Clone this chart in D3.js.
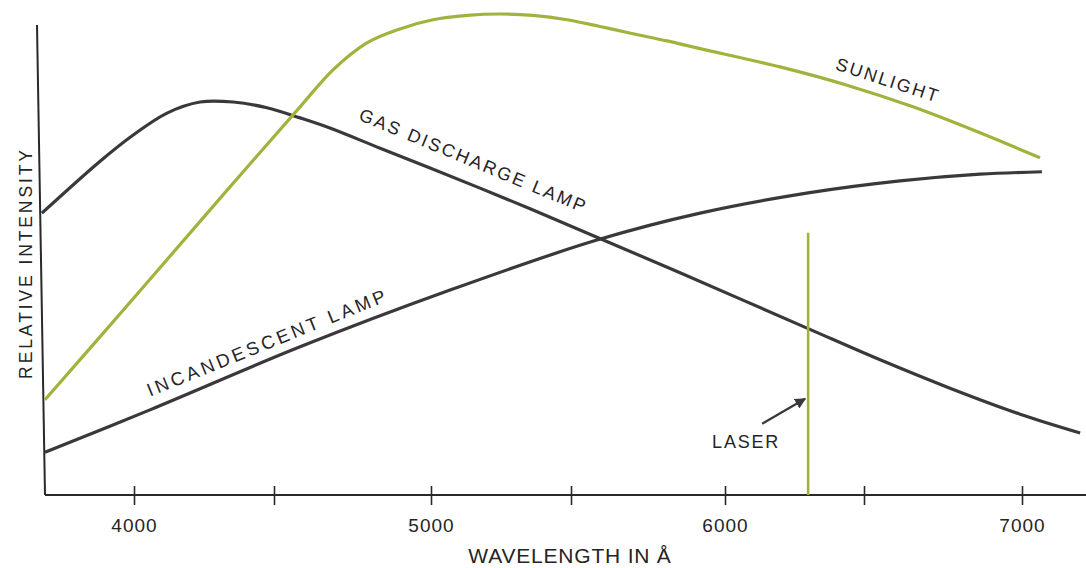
<!DOCTYPE html>
<html>
<head>
<meta charset="utf-8">
<script src="https://cdn.jsdelivr.net/npm/d3@7"></script>
<style>
  html, body { margin: 0; padding: 0; background: #fff; }
  svg { display: block; }
  text { font-family: "Liberation Sans", Arial, Helvetica, sans-serif; fill: #262426; }
</style>
</head>
<body>
<svg id="chart" width="1086" height="568"></svg>
<script>
// ---- data (wavelength in Å, relative intensity 0-100) ----
const sunlightWave = [3682, 4000, 4318, 4583, 4688, 4796, 4901, 5007, 5129, 5246, 5364, 5486, 5594, 5701, 5812, 5919, 6198, 6439, 6655, 6867, 7057];
const sunlightVal  = [19.8, 41.0, 62.4, 80.7, 88.4, 94.0, 96.9, 98.8, 99.7, 100, 99.7, 98.8, 97.4, 95.9, 94.4, 92.8, 89.0, 85.2, 80.7, 75.3, 70.1];

const gasWave = [3671, 3879, 3996, 4118, 4236, 4354, 4475, 4583, 4678, 4838, 4997, 5175, 5354, 5584, 5854, 6295, 6551, 6772, 6994, 7184];
const gasVal  = [58.6, 69.4, 74.8, 79.4, 81.7, 81.7, 80.5, 78.4, 76.3, 72.1, 68.0, 63.8, 59.5, 53.6, 46.2, 34.7, 28.1, 22.2, 16.8, 12.9];

const incWave = [3682, 4057, 4583, 5068, 5584, 5919, 6299, 6614, 6867, 7063];
const incVal  = [8.9, 17.7, 30.8, 42.6, 53.0, 58.6, 62.8, 65.3, 66.7, 67.2];

const laserWave = [6299];
const laserVal  = [54.5];

const tickValues = [4000, 4500, 5000, 5500, 6000, 6500, 7000];
const tickLabels = ["4000", "", "5000", "", "6000", "", "7000"];

const seriesNames = ["SUNLIGHT", "GAS DISCHARGE LAMP", "INCANDESCENT LAMP", "LASER"];
const xTitle = "WAVELENGTH IN Å";
const yTitle = "RELATIVE INTENSITY";

// ---- drawing ----
const svg = d3.select("#chart");
const dark = "#3b383b";
const green = "#a3b23c";

// hand-drawn axis: tick spacing is slightly irregular, so a polylinear scale
const x = d3.scaleLinear()
  .domain(tickValues)
  .range([134, 274, 431, 571, 725, 864, 1022]);
const y = d3.scaleLinear().domain([0, 100]).range([495, 14]);

const line = d3.line()
  .x(d => x(d[0]))
  .y(d => y(d[1]))
  .curve(d3.curveCatmullRom.alpha(0.5));

const zip = (a, b) => a.map((v, i) => [v, b[i]]);

// y axis (slightly slanted, as drawn)
svg.append("line")
  .attr("x1", 37).attr("y1", 25).attr("x2", 45).attr("y2", y(0))
  .attr("stroke", "#2a282a").attr("stroke-width", 2);

const xAxis = d3.axisBottom(x)
  .tickValues(tickValues)
  .tickSize(0)
  .tickFormat((d, i) => tickLabels[i]);

const gx = svg.append("g").attr("transform", `translate(0,${y(0)})`).call(xAxis);
gx.select(".domain").remove();
gx.append("line")
  .attr("x1", 45).attr("x2", 1086).attr("y1", 0).attr("y2", 0)
  .attr("stroke", "#2a282a").attr("stroke-width", 2);
gx.selectAll(".tick").append("line")
  .attr("y1", -9).attr("y2", 10)
  .attr("stroke", "#2a282a").attr("stroke-width", 1.6);
gx.selectAll(".tick text")
  .attr("y", 37).attr("dy", 0)
  .style("font-size", "19px")
  .style("letter-spacing", "1px")
  .style("font-family", "'Liberation Sans', Arial, sans-serif")
  .attr("fill", "#262426");

// series lines
svg.append("path").datum(zip(incWave, incVal))
  .attr("d", line).attr("fill", "none")
  .attr("stroke", dark).attr("stroke-width", 3.2);

svg.append("path").datum(zip(gasWave, gasVal))
  .attr("d", line).attr("fill", "none")
  .attr("stroke", dark).attr("stroke-width", 3.2);

svg.append("path").datum(zip(sunlightWave, sunlightVal))
  .attr("d", line).attr("fill", "none")
  .attr("stroke", green).attr("stroke-width", 3.2);

// laser line
svg.selectAll(".laser").data(zip(laserWave, laserVal)).enter().append("line")
  .attr("class", "laser")
  .attr("x1", d => x(d[0])).attr("x2", d => x(d[0]))
  .attr("y1", d => y(d[1])).attr("y2", y(0))
  .attr("stroke", green).attr("stroke-width", 2.6);

// arrow pointing to the laser line
svg.append("defs").append("marker")
  .attr("id", "arrowhead")
  .attr("viewBox", "0 0 10 10")
  .attr("refX", 9).attr("refY", 5)
  .attr("markerWidth", 5).attr("markerHeight", 5)
  .attr("markerUnits", "strokeWidth")
  .attr("orient", "auto")
  .append("path").attr("d", "M0,0 L10,5 L0,10 z").attr("fill", dark);

svg.append("line")
  .attr("x1", x(laserWave[0]) - 46).attr("y1", y(14.8))
  .attr("x2", x(laserWave[0]) - 3).attr("y2", y(20.0))
  .attr("stroke", dark).attr("stroke-width", 2.2)
  .attr("marker-end", "url(#arrowhead)");

// labels
function label(text, wl, val, angle, size, spacing) {
  svg.append("text")
    .attr("transform", `translate(${x(wl)},${y(val)}) rotate(${angle})`)
    .attr("text-anchor", "middle")
    .style("font-size", size + "px")
    .style("letter-spacing", spacing + "px")
    .text(text);
}
label(seriesNames[0], 6570, 85.0, 18, 18, 2.2);
label(seriesNames[1], 5143, 68.3, 22.5, 18, 2.3);
label(seriesNames[2], 4486, 30.5, -22, 18.5, 3.4);
label(seriesNames[3], 6076, 9.8, 0, 18, 1.8);

// axis titles
svg.append("text")
  .attr("x", 570).attr("y", 563)
  .attr("text-anchor", "middle")
  .style("font-size", "21px")
  .style("letter-spacing", "0.8px")
  .text(xTitle);

svg.append("text")
  .attr("transform", "translate(32,263) rotate(-90)")
  .attr("text-anchor", "middle")
  .style("font-size", "17.5px")
  .style("letter-spacing", "2.9px")
  .text(yTitle);
</script>
</body>
</html>
